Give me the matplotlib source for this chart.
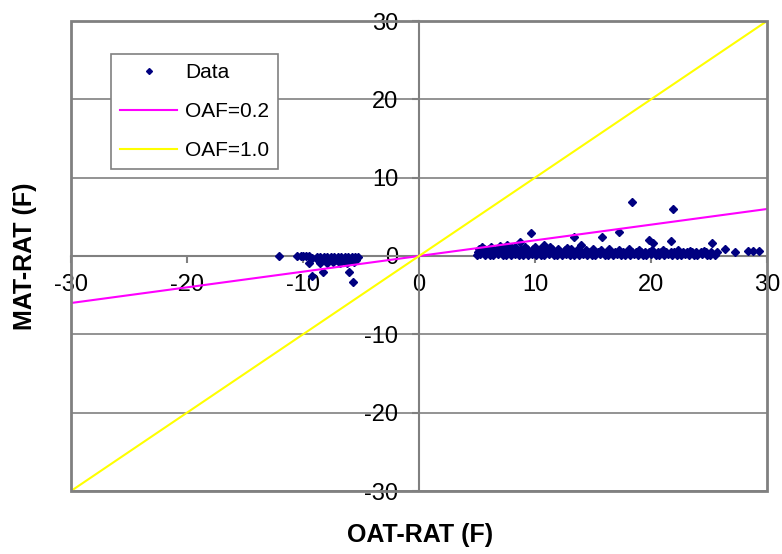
import numpy as np
import matplotlib.pyplot as plt
from matplotlib.patches import Rectangle

plt.rcParams['font.family'] = ['Liberation Sans', 'DejaVu Sans']
plt.rcParams['axes.unicode_minus'] = False

# scatter data (OAT-RAT, MAT-RAT)
band_x = [5.0, 5.3, 5.7, 6.1, 6.4, 6.8, 7.2, 7.5, 7.9, 8.3, 8.6, 9.0, 9.4, 9.7, 10.1,
          10.5, 10.8, 11.2, 11.6, 11.9, 12.3, 12.7, 13.0, 13.4, 13.8, 14.1, 14.5, 14.9,
          15.2, 15.6, 16.0, 16.3, 16.7, 17.1, 17.4, 17.8, 18.2, 18.5, 18.9, 19.3, 19.6,
          20.0, 20.4, 20.7, 21.1, 21.5, 21.8, 22.2, 22.6, 22.9, 23.3, 23.7, 24.0, 24.4,
          24.8, 25.1, 25.5,
          5.1, 5.5, 5.9, 6.3, 6.6, 7.0, 7.4, 7.7, 8.1, 8.5, 8.8, 9.2, 9.6, 9.9, 10.3,
          10.7, 11.0, 11.4, 11.8, 12.1, 12.5, 12.9, 13.2, 13.6, 14.0, 14.3, 14.7, 15.1,
          15.4, 15.8, 16.2, 16.5, 16.9, 17.3, 17.6, 18.0, 18.4, 18.7, 19.1, 19.5, 19.8,
          20.2, 20.6, 20.9, 21.3, 21.7, 22.0, 22.4, 22.8, 23.1, 23.5, 23.9, 24.3, 24.7,
          25.2, 25.7,
          5.2, 5.6, 6.0, 6.4, 6.8, 7.2, 7.6, 8.0, 8.4, 8.8, 9.3, 9.8, 10.4, 10.9, 11.5,
          12.0, 12.6, 13.1, 13.7, 14.4, 15.0, 15.7, 16.4, 17.2, 18.1, 19.0, 20.1, 21.0,
          22.3, 23.4, 24.6,
          5.4, 6.2, 7.0, 7.9, 8.3, 9.1, 10.0, 11.3, 12.8]
band_y = [0.1, 0.2, 0.1, 0.15, 0.1, 0.2, 0.1, 0.15, 0.1, 0.2, 0.1, 0.15, 0.1, 0.2, 0.1,
          0.15, 0.1, 0.2, 0.1, 0.15, 0.1, 0.2, 0.1, 0.15, 0.1, 0.2, 0.1, 0.15,
          0.1, 0.2, 0.1, 0.15, 0.1, 0.2, 0.1, 0.15, 0.1, 0.2, 0.1, 0.15, 0.1,
          0.2, 0.1, 0.15, 0.1, 0.2, 0.1, 0.15, 0.1, 0.2, 0.1, 0.15, 0.1, 0.2,
          0.1, 0.15, 0.1,
          0.5, 0.55, 0.5, 0.45, 0.55, 0.5, 0.5, 0.45, 0.55, 0.5, 0.5, 0.45, 0.55, 0.5, 0.5,
          0.45, 0.55, 0.5, 0.5, 0.45, 0.55, 0.5, 0.5, 0.45, 0.55, 0.5, 0.5, 0.45,
          0.55, 0.5, 0.5, 0.45, 0.55, 0.5, 0.5, 0.45, 0.55, 0.5, 0.5, 0.45, 0.55,
          0.5, 0.5, 0.45, 0.55, 0.5, 0.5, 0.45, 0.55, 0.5, 0.45, 0.5, 0.45, 0.5,
          0.5, 0.45,
          0.9, 0.85, 0.9, 0.95, 0.85, 0.9, 0.9, 0.95, 0.85, 0.9, 0.85, 0.9, 0.85, 0.8, 0.9,
          0.85, 0.8, 0.9, 0.85, 0.8, 0.85, 0.8, 0.85, 0.8, 0.85, 0.8, 0.75, 0.8,
          0.75, 0.7, 0.7,
          1.2, 1.1, 1.3, 1.2, 1.1, 1.2, 1.1, 1.2, 1.0]
outlier_x = [18.4, 21.9, 9.65, 17.2, 13.4, 15.8, 8.7, 7.6, 19.8, 20.2, 21.7, 25.3,
             14.0, 10.8, 26.4, 27.2, 28.4, 28.8, 29.3]
outlier_y = [6.9, 6.0, 2.9, 3.1, 2.4, 2.4, 1.75, 1.4, 2.1, 1.6, 1.9, 1.6,
             1.4, 1.4, 0.85, 0.5, 0.6, 0.6, 0.6]
neg_x = [-12.1, -10.5, -10.2, -10.0, -9.7, -9.5, -9.45, -9.2, -8.3, -6.0, -5.7, -9.2,
         -8.8, -8.5, -8.2, -7.9, -7.6, -7.3, -7.0, -6.7, -6.4, -6.1, -5.8, -5.5, -5.3,
         -8.7, -8.4, -8.1, -7.8, -7.5, -7.2, -6.9, -6.6, -6.3, -6.0, -5.7, -5.4,
         -8.5, -7.9, -7.4, -6.8, -6.2, -5.6]
neg_y = [0.0, 0.0, 0.0, 0.0, 0.0, 0.0, -0.9, -2.5, -2.0, -2.0, -3.3, -0.3,
         -0.1, -0.1, -0.1, -0.1, -0.1, -0.1, -0.1, -0.1, -0.1, -0.1, -0.1, -0.1, -0.1,
         -0.5, -0.5, -0.5, -0.5, -0.5, -0.5, -0.5, -0.5, -0.5, -0.5, -0.5, -0.5,
         -0.9, -0.9, -0.8, -0.9, -0.9, -0.8]

data_x = band_x + outlier_x + neg_x
data_y = band_y + outlier_y + neg_y

# reference lines
line_x = [-30, 0, 30]
oaf_02 = [-6, 0, 6]
oaf_10 = [-30, 0, 30]

ticks = [-30, -20, -10, 0, 10, 20, 30]
grey = '#808080'

fig = plt.figure(figsize=(7.82, 5.54), dpi=100)
ax = fig.add_axes([71 / 782, 1 - 491 / 554, 696 / 782, 470 / 554])

ax.plot(data_x, data_y, 'D', color='#000080', markersize=4.3, linestyle='none',
        label='Data', zorder=3)
ax.plot(line_x, oaf_02, color='#FF00FF', lw=1.5, label='OAF=0.2', zorder=4)
ax.plot(line_x, oaf_10, color='#FFFF00', lw=1.5, label='OAF=1.0', zorder=4)

ax.set_xlim(-30, 30)
ax.set_ylim(-30, 30)
ax.set_xticks(ticks)
ax.set_yticks(ticks)
ax.yaxis.grid(True, color=grey, lw=1.2)
ax.set_axisbelow(True)

for s in ['top', 'right']:
    ax.spines[s].set_visible(False)
for s in ['left', 'bottom']:
    ax.spines[s].set_position('zero')
    ax.spines[s].set_color(grey)
    ax.spines[s].set_linewidth(1.5)
ax.add_patch(Rectangle((0, 0), 1, 1, transform=ax.transAxes, fill=False,
                       edgecolor=grey, lw=2, clip_on=False, zorder=5))

ax.tick_params(axis='x', direction='out', length=5, width=1.5, color=grey,
               labelsize=17, pad=8)
ax.tick_params(axis='y', direction='out', length=5, width=1.5, color=grey,
               labelsize=17, pad=10)

fig.text(25 / 782, 1 - 256 / 554, 'MAT-RAT (F)', rotation=90, ha='center',
         va='center', fontsize=18, fontweight='bold')
fig.text(420 / 782, 1 - 535 / 554, 'OAT-RAT (F)', ha='center', va='center',
         fontsize=18, fontweight='bold')

leg = ax.legend(loc='upper left', bbox_to_anchor=(40 / 696, 1 - 33 / 470),
                borderaxespad=0, fontsize=15, fancybox=False, framealpha=1,
                edgecolor=grey, handlelength=2.7, handletextpad=0.4,
                borderpad=0.45, labelspacing=0.95, markerscale=0.7)
leg.get_frame().set_linewidth(1.2)

fig.savefig('out.png', dpi=100)
